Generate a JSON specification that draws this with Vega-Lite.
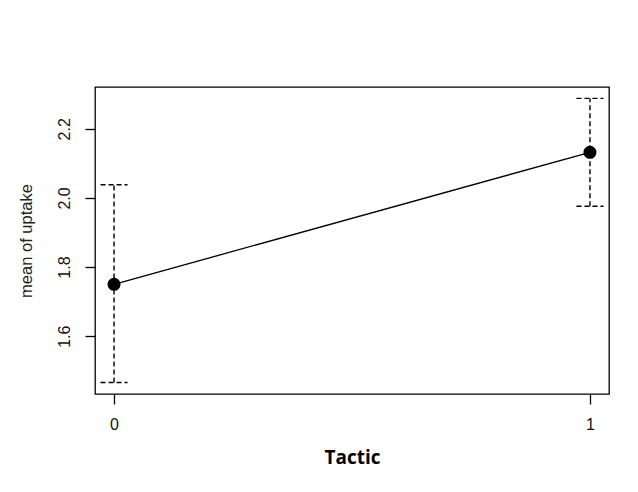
{
  "$schema": "https://vega.github.io/schema/vega-lite/v6.json",
  "width": 514,
  "height": 307,
  "autosize": {"type": "none"},
  "padding": {"left": 95, "top": 87, "right": 29, "bottom": 98},
  "background": "white",
  "data": {
    "values": [
      {"Tactic": 0, "mean": 1.75, "lo": 1.466, "hi": 2.038},
      {"Tactic": 1, "mean": 2.132, "lo": 1.976, "hi": 2.288}
    ]
  },
  "encoding": {
    "x": {
      "field": "Tactic",
      "type": "quantitative",
      "scale": {"domain": [-0.04, 1.04], "nice": false, "zero": false},
      "axis": {
        "values": [0, 1],
        "format": "d",
        "title": "Tactic",
        "titleFont": "Open Sans",
        "titleFontSize": 19,
        "titleFontWeight": "bold",
        "titleColor": "black",
        "titlePadding": 16,
        "labelPadding": 12,
        "labelFont": "Liberation Sans",
        "labelFontSize": 16,
        "labelColor": "#111"
      }
    }
  },
  "layer": [
    {
      "mark": {"type": "rule", "color": "black", "strokeWidth": 1.4, "strokeDash": [5, 3]},
      "encoding": {
        "y": {
          "field": "lo",
          "type": "quantitative",
          "title": "mean of uptake",
          "scale": {"domain": [1.4326, 2.321], "nice": false, "zero": false},
          "axis": {
            "values": [1.6, 1.8, 2.0, 2.2],
            "format": ".1f",
            "labelAngle": 270,
            "labelAlign": "center",
            "labelBaseline": "bottom",
            "labelPadding": 13,
            "labelFont": "Liberation Sans",
            "labelFontSize": 16,
            "labelColor": "#111",
            "titlePadding": 22,
            "titleFont": "Liberation Sans",
            "titleFontSize": 16.5,
            "titleFontWeight": "normal",
            "titleColor": "#222"
          }
        },
        "y2": {"field": "hi"}
      }
    },
    {
      "mark": {"type": "rule", "color": "black", "strokeWidth": 1.4, "strokeDash": [5, 3], "xOffset": -13.5, "x2Offset": 13.5},
      "encoding": {
        "x2": {"field": "Tactic"},
        "y": {"field": "lo", "type": "quantitative", "title": "mean of uptake"}
      }
    },
    {
      "mark": {"type": "rule", "color": "black", "strokeWidth": 1.4, "strokeDash": [5, 3], "xOffset": -13.5, "x2Offset": 13.5},
      "encoding": {
        "x2": {"field": "Tactic"},
        "y": {"field": "hi", "type": "quantitative", "title": "mean of uptake"}
      }
    },
    {
      "mark": {"type": "line", "color": "black", "strokeWidth": 1.3},
      "encoding": {
        "y": {"field": "mean", "type": "quantitative", "title": "mean of uptake"}
      }
    },
    {
      "mark": {"type": "point", "shape": "circle", "filled": true, "color": "black", "opacity": 1, "size": 170},
      "encoding": {
        "y": {"field": "mean", "type": "quantitative", "title": "mean of uptake"}
      }
    }
  ],
  "config": {
    "view": {"stroke": "black", "strokeWidth": 1.3},
    "axis": {
      "domain": false,
      "grid": false,
      "ticks": true,
      "tickColor": "black",
      "tickWidth": 1.3,
      "tickSize": 10,
      "labelFont": "Liberation Sans",
      "labelFontSize": 16,
      "labelColor": "#111"
    }
  }
}
